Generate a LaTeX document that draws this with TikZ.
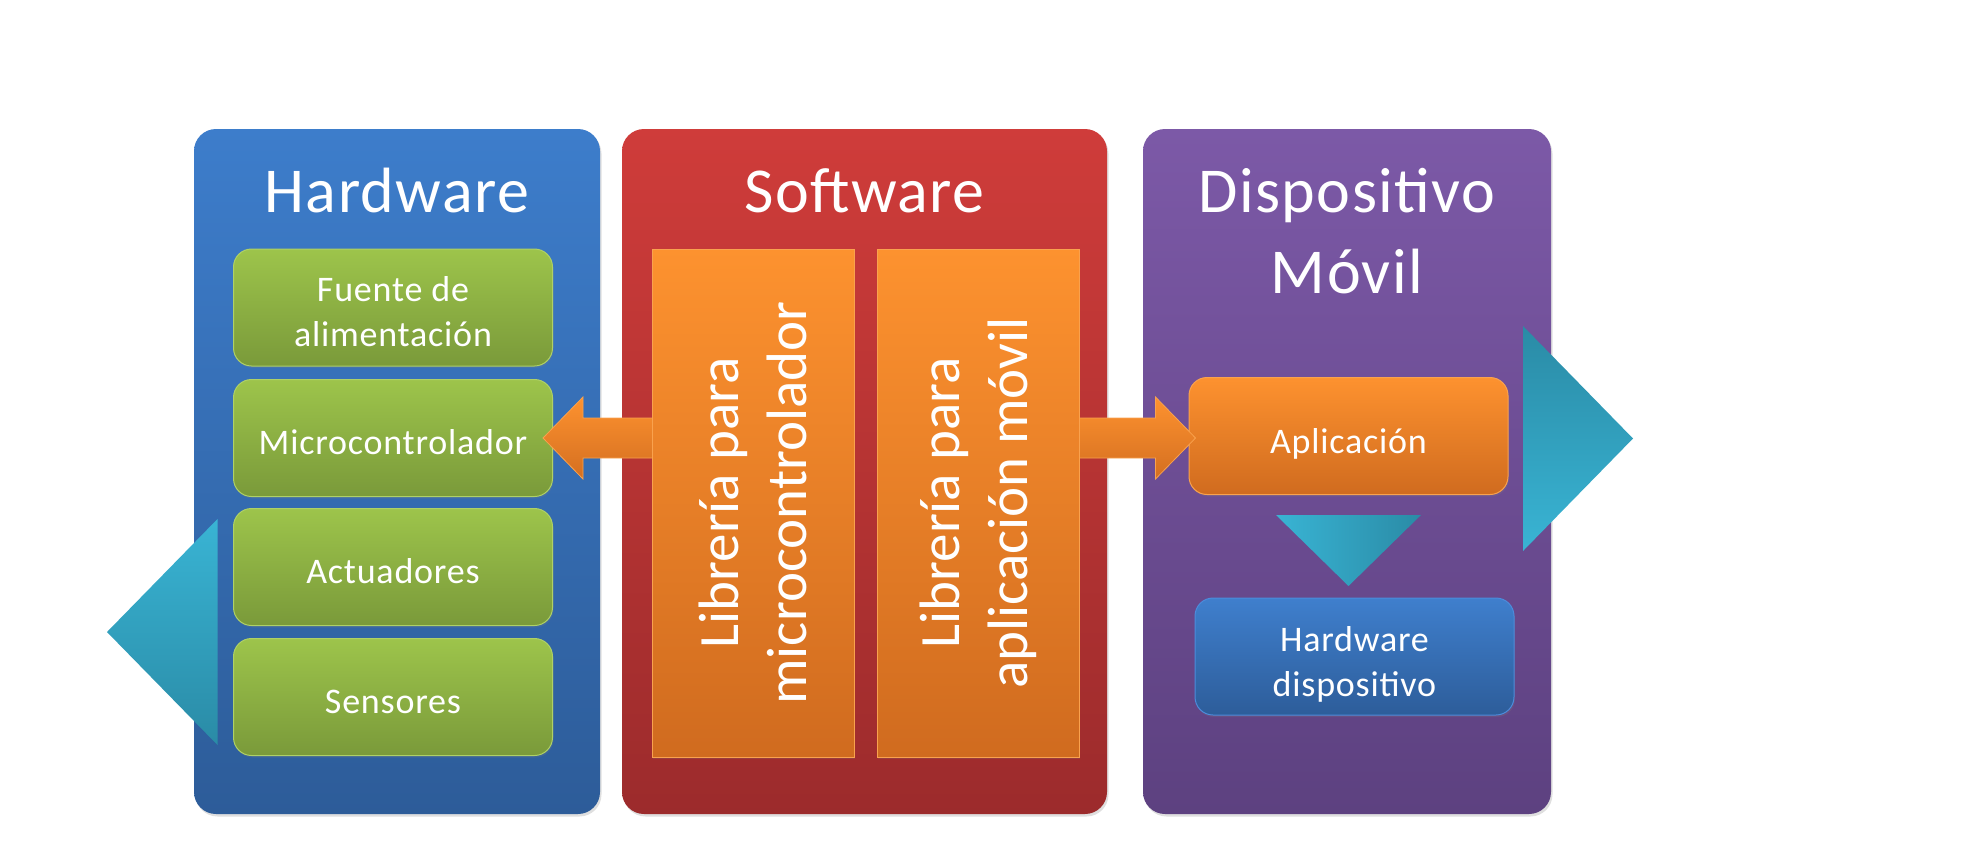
\documentclass[tikz,border=0pt]{standalone}
\usepackage{fontspec}
\setmainfont[LetterSpace=2.2]{Carlito}
\newfontfamily\libfont{Carlito}
\usetikzlibrary{calc,shadows}
\definecolor{bluetop}{HTML}{3D7DCB}
\definecolor{bluebot}{HTML}{2D5C99}
\definecolor{redtop}{HTML}{CF3C3A}
\definecolor{redbot}{HTML}{9C2B2C}
\definecolor{purtop}{HTML}{7C59A7}
\definecolor{purbot}{HTML}{5D4180}
\definecolor{grntop}{HTML}{9DC44B}
\definecolor{grnbot}{HTML}{7A9A3A}
\definecolor{grnedge}{HTML}{AFD166}
\definecolor{orgtop}{HTML}{FD922F}
\definecolor{orgbot}{HTML}{D06B1F}
\definecolor{orgedge}{HTML}{F9A24E}
\definecolor{bbtop}{HTML}{3F7FCD}
\definecolor{bbbot}{HTML}{2D5D9A}
\definecolor{bbedge}{HTML}{4C8CDB}
\definecolor{cyanlt}{HTML}{39B4D4}
\definecolor{cyandk}{HTML}{2A8BA6}
\begin{document}
\begin{tikzpicture}[x=1pt,y=-1pt,
  panel/.style={draw=none, rounded corners=22pt, inner sep=0pt,
    drop shadow={opacity=0.25, shadow xshift=1.5pt, shadow yshift=-2.5pt}},
  titletext/.style={text=white, font=\fontsize{64}{81}\selectfont, inner sep=0pt},
  boxlabel/.style={text=white, font=\fontsize{36}{45}\selectfont, align=center, inner sep=0pt, yshift=-4.5pt},
  greenbox/.style={rounded corners=18pt, draw=grnedge, line width=1pt,
    top color=grntop, bottom color=grnbot, minimum width=319pt, minimum height=117pt,
    inner sep=0pt,
    drop shadow={opacity=0.2, shadow xshift=1pt, shadow yshift=-2pt}},
  orangebox/.style={greenbox, draw=orgedge, top color=orgtop, bottom color=orgbot},
  bluebox/.style={greenbox, draw=bbedge, top color=bbtop, bottom color=bbbot},
  libbox/.style={draw=orgedge, line width=1pt, top color=orgtop, bottom color=orgbot,
    minimum width=202pt, minimum height=508pt, inner sep=0pt,
    drop shadow={opacity=0.2, shadow xshift=1pt, shadow yshift=-2pt}},
  libtext/.style={text=white, font=\libfont\fontsize{57}{68}\selectfont, align=center,
    rotate=90, inner sep=0pt},
  orangearrow/.style={draw=orgedge, line width=0.8pt, top color=orgtop, bottom color=orgbot!90!orgtop},
]
\useasboundingbox (0,0) rectangle (1983,841);

% panels
\node[panel, top color=bluetop, bottom color=bluebot, minimum width=406pt, minimum height=685pt] (hwpanel) at (397,471.5) {};
\node[panel, top color=redtop, bottom color=redbot, minimum width=485pt, minimum height=685pt] (swpanel) at (864.5,471.5) {};
\node[panel, top color=purtop, bottom color=purbot, minimum width=408pt, minimum height=685pt] (dmpanel) at (1347,471.5) {};

% titles
\node[titletext, anchor=base] (hwtitle) at (397,212) {Hardware};
\node[titletext, anchor=base] (swtitle) at (864.5,212) {Software};
\node[titletext, align=center] (dmtitle) at (1347,231) {Dispositivo\\Móvil};

% hardware items
\node[greenbox, label={[boxlabel]center:{Fuente de\\alimentación}}] (fuente) at (393,307.5) {};
\node[greenbox, label={[boxlabel]center:{Microcontrolador}}] (micro) at (393,438) {};
\node[greenbox, label={[boxlabel]center:{Actuadores}}] (act) at (393,567) {};
\node[greenbox, label={[boxlabel]center:{Sensores}}] (sens) at (393,697) {};

% big chevrons
\path[top color=cyanlt, bottom color=cyandk] (217.5,519) -- (107,632) -- (217.5,745) -- cycle;
\path[top color=cyandk, bottom color=cyanlt] (1523,326) -- (1633,438.5) -- (1523,551) -- cycle;

% mobile device items
\node[orangebox, label={[boxlabel, yshift=-3pt]center:{Aplicación}}] (app) at (1348.5,436) {};
\node[bluebox, label={[boxlabel, yshift=-3pt]center:{Hardware\\dispositivo}}] (hwdev) at (1354.5,656.5) {};
\path[left color=cyanlt, right color=cyandk] (1276,515) -- (1421,515) -- (1348.5,586) -- cycle;

% arrows
\path[orangearrow] ($(753,438)+(0,-20)$) -- ($(micro.east)+(30,-20)$) -- ($(micro.east)+(30,-41)$)
  -- ($(micro.east)+(-10,0)$) -- ($(micro.east)+(30,41)$) -- ($(micro.east)+(30,20)$)
  -- ($(753,438)+(0,20)$) -- cycle;
\path[orangearrow] ($(978,438)+(0,-20)$) -- ($(app.west)+(-33,-18)$) -- ($(app.west)+(-33,-39)$)
  -- ($(app.west)+(7,2)$) -- ($(app.west)+(-33,43)$) -- ($(app.west)+(-33,22)$)
  -- ($(978,438)+(0,20)$) -- cycle;

% software libraries
\node[libbox] (lib1) at (753,503) {};
\node[libtext] (lib1txt) at (lib1.center) {Librería para\\microcontrolador};
\node[libbox] (lib2) at (978,503) {};
\node[libtext] (lib2txt) at (lib2.center) {Librería para\\aplicación móvil};
\end{tikzpicture}
\end{document}
